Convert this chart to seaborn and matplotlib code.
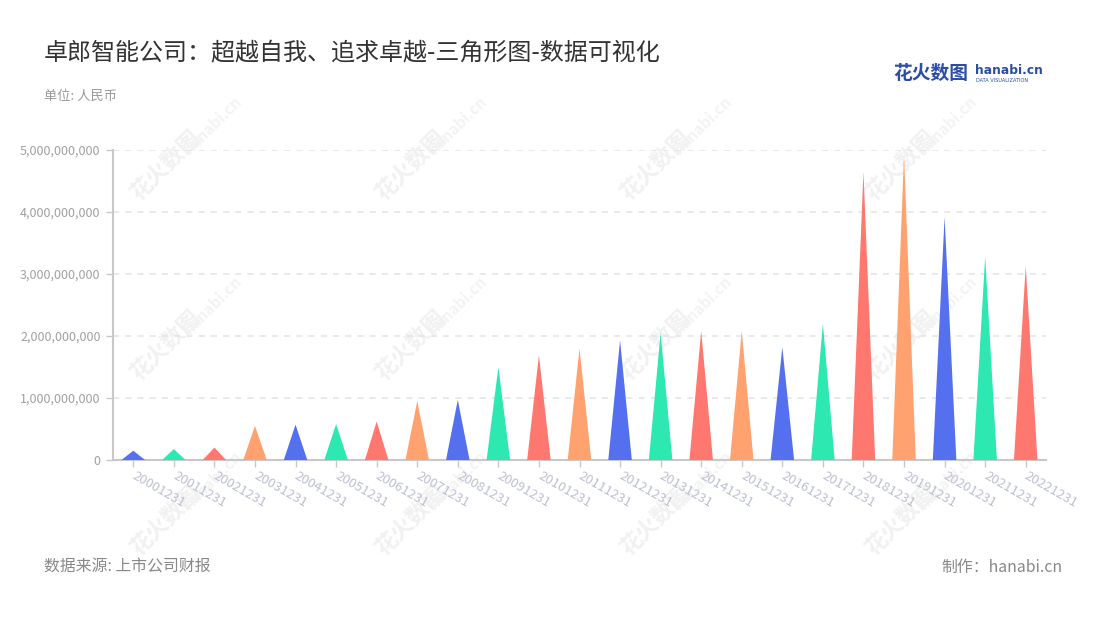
import matplotlib
matplotlib.use('Agg')
import matplotlib.pyplot as plt
from matplotlib.patches import Polygon
import seaborn as sns

# 数据
dates = ['20001231', '20011231', '20021231', '20031231', '20041231', '20051231',
         '20061231', '20071231', '20081231', '20091231', '20101231', '20111231',
         '20121231', '20131231', '20141231', '20151231', '20161231', '20171231',
         '20181231', '20191231', '20201231', '20211231', '20221231']
revenue = [0.15e9, 0.175e9, 0.20e9, 0.55e9, 0.57e9, 0.58e9,
           0.62e9, 0.95e9, 0.97e9, 1.50e9, 1.69e9, 1.80e9,
           1.93e9, 2.05e9, 2.08e9, 2.08e9, 1.82e9, 2.20e9,
           4.65e9, 4.93e9, 3.92e9, 3.28e9, 3.13e9]
palette = ['#5470ee', '#2de8b0', '#ff7870', '#ffa26f']

sns.set_theme(style='white')
plt.rcParams['font.family'] = ['Noto Sans CJK SC', 'DejaVu Sans']

fig = plt.figure(figsize=(11, 6.2), dpi=100)

# 水印（放在最底层）
for wx in [165, 410, 655, 900]:
    for wy in [165, 345, 520]:
        fig.text(wx / 1100, 1 - wy / 620, '花火数图', fontsize=16, color='#f1f1f1',
                 rotation=45, ha='center', va='center', fontweight='bold', zorder=-5)
        fig.text((wx + 48) / 1100, 1 - (wy - 40) / 620, 'hanabi.cn', fontsize=11,
                 color='#f3f3f3', rotation=45, ha='center', va='center',
                 fontweight='bold', zorder=-5)

ax = fig.add_axes([113 / 1100, 1 - 460 / 620, (1046 - 113) / 1100, 310 / 620])
ax.set_facecolor('none')

colors = [palette[i % 4] for i in range(len(dates))]
sns.barplot(x=dates, y=revenue, hue=dates, palette=colors, legend=False,
            width=0.58, saturation=1, ax=ax)

# 把柱子换成三角形
for p in list(ax.patches):
    x0, w, h = p.get_x(), p.get_width(), p.get_height()
    tri = Polygon([(x0, 0), (x0 + w / 2, h), (x0 + w, 0)], closed=True,
                  facecolor=p.get_facecolor(), edgecolor='none', zorder=3)
    ax.add_patch(tri)
    p.remove()

ax.set_xlim(-0.5, len(dates) - 0.5)
ax.set_ylim(0, 5e9)
ax.set_yticks([0, 1e9, 2e9, 3e9, 4e9, 5e9])
ax.yaxis.set_major_formatter(matplotlib.ticker.FuncFormatter(lambda v, _: f'{int(v):,}'))

ax.grid(axis='y', color='#e3e3e3', linestyle=(0, (4, 4)), linewidth=1.1)
ax.set_axisbelow(True)
for s in ['top', 'right']:
    ax.spines[s].set_visible(False)
for s in ['left', 'bottom']:
    ax.spines[s].set_color('#c8c8c8')
    ax.spines[s].set_linewidth(1.5)

ax.tick_params(axis='y', left=True, length=5, width=1, color='#c8c8c8',
               labelsize=9, labelcolor='#a0a0a0', pad=4)
ax.tick_params(axis='x', bottom=True, length=5, width=1, color='#c8c8c8',
               labelsize=9.5, labelcolor='#bcc0d0', pad=6)
for lab in ax.get_xticklabels():
    lab.set_rotation(-30)
    lab.set_ha('left')
    lab.set_va('center')
    lab.set_rotation_mode('anchor')
ax.set_xlabel('')
ax.set_ylabel('')

# 标题等文字
fig.text(44 / 1100, 1 - 53 / 620, '卓郎智能公司：超越自我、追求卓越-三角形图-数据可视化',
         fontsize=17.3, color='#333333', ha='left', va='center')
fig.text(44 / 1100, 1 - 96 / 620, '单位: 人民币', fontsize=9.5, color='#999999',
         ha='left', va='center')
fig.text(44 / 1100, 1 - 567 / 620, '数据来源: 上市公司财报', fontsize=11.4, color='#888888',
         ha='left', va='center')
fig.text(1062 / 1100, 1 - 567 / 620, '制作：hanabi.cn', fontsize=11.4, color='#888888',
         ha='right', va='center')

# logo
fig.text(893 / 1100, 1 - 73 / 620, '花火数图', fontsize=13.5, color='#2a4da8',
         fontweight='bold', ha='left', va='center')
fig.text(975 / 1100, 1 - 70 / 620, 'hanabi.cn', fontsize=8.8, color='#2a4da8',
         fontweight='bold', ha='left', va='center', family=['DejaVu Sans'])
fig.text(976 / 1100, 1 - 80 / 620, 'DATA VISUALIZATION', fontsize=3.6, color='#2a4da8',
         ha='left', va='center', family=['DejaVu Sans'])

fig.savefig('out.png', dpi=100, facecolor='white')
